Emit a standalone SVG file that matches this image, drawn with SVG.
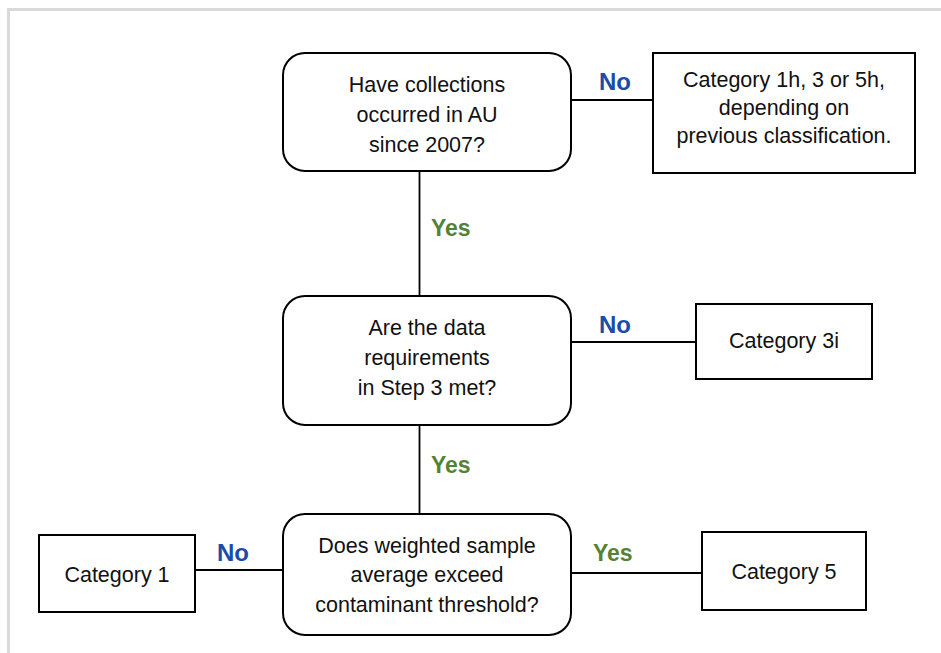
<svg xmlns="http://www.w3.org/2000/svg" width="941" height="653" viewBox="0 0 941 653">
<style>
.bg{fill:#ffffff}
.frame{fill:none;stroke:#d9d9d9;stroke-width:3}
.dec{fill:#ffffff;stroke:#000000;stroke-width:2}
.box{fill:#ffffff;stroke:#000000;stroke-width:2}
.conn line{stroke:#000000;stroke-width:1.8}
.t{font-family:"Liberation Sans",Arial,sans-serif;font-size:21.5px;fill:#111111;text-anchor:middle}
.no{font-family:"Liberation Sans",Arial,sans-serif;font-size:24px;font-weight:bold;fill:#1a4ca8}
.yes{font-family:"Liberation Sans",Arial,sans-serif;font-size:23px;font-weight:bold;fill:#548235}
</style>
<rect class="bg" x="0" y="0" width="941" height="653"/>
<path class="frame" d="M8.5 653 V9.5 H941"/>
<g id="connectors" class="conn">
<line x1="571" y1="100" x2="653" y2="100"/>
<line x1="419.5" y1="171" x2="419.5" y2="296"/>
<line x1="571" y1="342" x2="696" y2="342"/>
<line x1="419.5" y1="425" x2="419.5" y2="514"/>
<line x1="195" y1="570" x2="283" y2="570"/>
<line x1="571" y1="573" x2="702" y2="573"/>
</g>
<g id="labels">
<text class="no" x="599" y="90">No</text>
<text class="yes" x="431" y="236">Yes</text>
<text class="no" x="599" y="333">No</text>
<text class="yes" x="431" y="473">Yes</text>
<text class="no" x="217" y="561">No</text>
<text class="yes" x="593" y="561">Yes</text>
</g>
<g id="q1">
<rect class="dec" x="283" y="53" width="288" height="118" rx="22"/>
<text class="t" x="427" y="92">Have collections</text>
<text class="t" x="427" y="122">occurred in AU</text>
<text class="t" x="427" y="152">since 2007?</text>
</g>
<g id="cat1h">
<rect class="box" x="653" y="53" width="262" height="120"/>
<text class="t" x="784" y="87">Category 1h, 3 or 5h,</text>
<text class="t" x="784" y="115">depending on</text>
<text class="t" x="784" y="143">previous classification.</text>
</g>
<g id="q2">
<rect class="dec" x="283" y="296" width="288" height="129" rx="22"/>
<text class="t" x="427" y="335">Are the data</text>
<text class="t" x="427" y="365">requirements</text>
<text class="t" x="427" y="395">in Step 3 met?</text>
</g>
<g id="cat3i">
<rect class="box" x="696" y="304" width="176" height="75"/>
<text class="t" x="784" y="348">Category 3i</text>
</g>
<g id="q3">
<rect class="dec" x="283" y="514" width="288" height="121" rx="22"/>
<text class="t" x="427" y="553">Does weighted sample</text>
<text class="t" x="427" y="582">average exceed</text>
<text class="t" x="427" y="612">contaminant threshold?</text>
</g>
<g id="cat1">
<rect class="box" x="39" y="535" width="156" height="77"/>
<text class="t" x="117" y="582">Category 1</text>
</g>
<g id="cat5">
<rect class="box" x="702" y="532" width="164" height="78"/>
<text class="t" x="784" y="579">Category 5</text>
</g>
</svg>
